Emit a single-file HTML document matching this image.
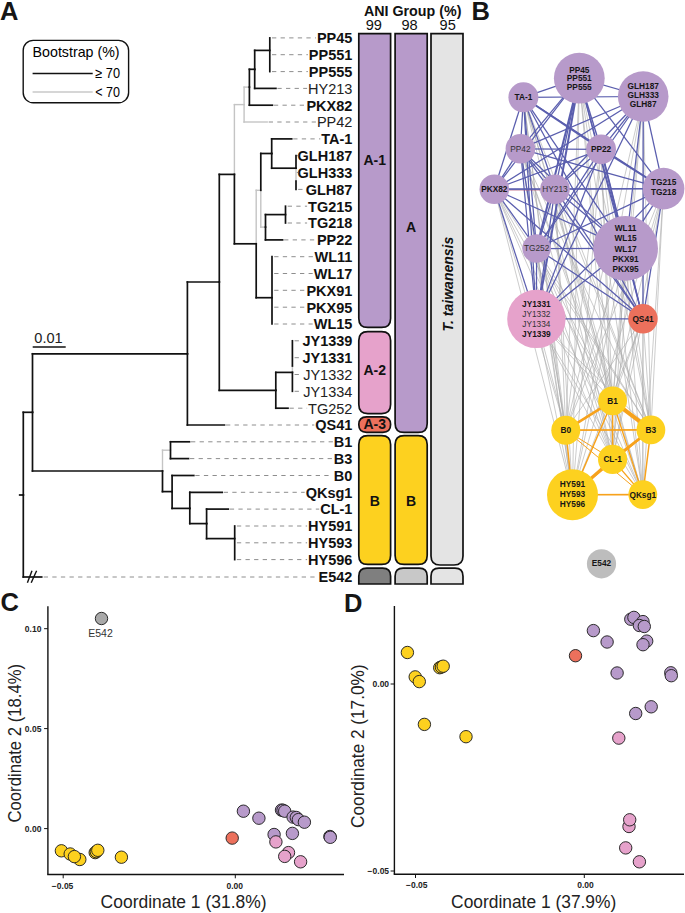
<!DOCTYPE html>
<html><head><meta charset="utf-8"><style>
html,body{margin:0;padding:0;background:#fff;}
svg{display:block;font-family:"Liberation Sans", sans-serif;}
</style></head><body>
<svg width="685" height="913" viewBox="0 0 685 913">
<rect width="685" height="913" fill="#fff"/>
<text x="0.0" y="19.5" font-size="25.5" font-weight="bold" fill="#161616">A</text>
<text x="471.6" y="19.9" font-size="25.5" font-weight="bold" fill="#161616">B</text>
<text x="0.4" y="611.4" font-size="25.5" font-weight="bold" fill="#161616">C</text>
<text x="344.0" y="611.7" font-size="25.5" font-weight="bold" fill="#161616">D</text>
<rect x="23.2" y="40.4" width="105.4" height="62.4" rx="10" ry="10" fill="none" stroke="#111" stroke-width="1.4"/>
<text x="32.6" y="56.9" font-size="13.9" textLength="87" lengthAdjust="spacingAndGlyphs">Bootstrap (%)</text>
<line x1="32.6" y1="73.5" x2="92.7" y2="73.5" stroke="#111" stroke-width="1.5"/>
<line x1="32.6" y1="92" x2="92.7" y2="92" stroke="#c8c8c8" stroke-width="1.5"/>
<text x="95.3" y="77.8" font-size="14" textLength="24.8" lengthAdjust="spacingAndGlyphs">≥ 70</text>
<text x="95.3" y="96.8" font-size="14" textLength="24.8" lengthAdjust="spacingAndGlyphs">&lt; 70</text>
<g font-size="14.5" fill="#111">
<text x="352.4" y="43.2" text-anchor="end" font-weight="bold" fill="#111">PP45</text>
<text x="352.4" y="60.0" text-anchor="end" font-weight="bold" fill="#111">PP551</text>
<text x="352.4" y="76.9" text-anchor="end" font-weight="bold" fill="#111">PP555</text>
<text x="352.4" y="93.7" text-anchor="end" font-weight="normal" fill="#222">HY213</text>
<text x="352.4" y="110.5" text-anchor="end" font-weight="bold" fill="#111">PKX82</text>
<text x="352.4" y="127.3" text-anchor="end" font-weight="normal" fill="#222">PP42</text>
<text x="352.4" y="144.2" text-anchor="end" font-weight="bold" fill="#111">TA-1</text>
<text x="352.4" y="161.0" text-anchor="end" font-weight="bold" fill="#111">GLH187</text>
<text x="352.4" y="177.8" text-anchor="end" font-weight="bold" fill="#111">GLH333</text>
<text x="352.4" y="194.7" text-anchor="end" font-weight="bold" fill="#111">GLH87</text>
<text x="352.4" y="211.5" text-anchor="end" font-weight="bold" fill="#111">TG215</text>
<text x="352.4" y="228.3" text-anchor="end" font-weight="bold" fill="#111">TG218</text>
<text x="352.4" y="245.2" text-anchor="end" font-weight="bold" fill="#111">PP22</text>
<text x="352.4" y="262.0" text-anchor="end" font-weight="bold" fill="#111">WL11</text>
<text x="352.4" y="278.8" text-anchor="end" font-weight="bold" fill="#111">WL17</text>
<text x="352.4" y="295.6" text-anchor="end" font-weight="bold" fill="#111">PKX91</text>
<text x="352.4" y="312.5" text-anchor="end" font-weight="bold" fill="#111">PKX95</text>
<text x="352.4" y="329.3" text-anchor="end" font-weight="bold" fill="#111">WL15</text>
<text x="352.4" y="346.1" text-anchor="end" font-weight="bold" fill="#111">JY1339</text>
<text x="352.4" y="363.0" text-anchor="end" font-weight="bold" fill="#111">JY1331</text>
<text x="352.4" y="379.8" text-anchor="end" font-weight="normal" fill="#222">JY1332</text>
<text x="352.4" y="396.6" text-anchor="end" font-weight="normal" fill="#222">JY1334</text>
<text x="352.4" y="413.5" text-anchor="end" font-weight="normal" fill="#222">TG252</text>
<text x="352.4" y="430.3" text-anchor="end" font-weight="bold" fill="#111">QS41</text>
<text x="352.4" y="447.1" text-anchor="end" font-weight="bold" fill="#111">B1</text>
<text x="352.4" y="463.9" text-anchor="end" font-weight="bold" fill="#111">B3</text>
<text x="352.4" y="480.8" text-anchor="end" font-weight="bold" fill="#111">B0</text>
<text x="352.4" y="497.6" text-anchor="end" font-weight="bold" fill="#111">QKsg1</text>
<text x="352.4" y="514.4" text-anchor="end" font-weight="bold" fill="#111">CL-1</text>
<text x="352.4" y="531.3" text-anchor="end" font-weight="bold" fill="#111">HY591</text>
<text x="352.4" y="548.1" text-anchor="end" font-weight="bold" fill="#111">HY593</text>
<text x="352.4" y="564.9" text-anchor="end" font-weight="bold" fill="#111">HY596</text>
<text x="352.4" y="582.3" text-anchor="end" font-weight="bold" fill="#111">E542</text>
</g>
<g stroke="#8e8e8e" stroke-width="1" stroke-dasharray="4.3 4.3">
<line x1="272.0" y1="37.9" x2="315.9" y2="37.9"/>
<line x1="272.0" y1="54.7" x2="307.9" y2="54.7"/>
<line x1="272.0" y1="71.6" x2="307.9" y2="71.6"/>
<line x1="277.4" y1="88.4" x2="307.1" y2="88.4"/>
<line x1="273.9" y1="105.2" x2="305.5" y2="105.2"/>
<line x1="268.7" y1="122.0" x2="315.9" y2="122.0"/>
<line x1="293.2" y1="138.9" x2="320.3" y2="138.9"/>
<line x1="298.2" y1="155.7" x2="296.6" y2="155.7"/>
<line x1="298.2" y1="172.5" x2="296.6" y2="172.5"/>
<line x1="298.2" y1="189.4" x2="304.7" y2="189.4"/>
<line x1="287.7" y1="206.2" x2="307.1" y2="206.2"/>
<line x1="287.7" y1="223.0" x2="307.1" y2="223.0"/>
<line x1="284.1" y1="239.9" x2="315.9" y2="239.9"/>
<line x1="274.2" y1="256.7" x2="313.5" y2="256.7"/>
<line x1="274.2" y1="273.5" x2="312.7" y2="273.5"/>
<line x1="274.2" y1="290.3" x2="305.5" y2="290.3"/>
<line x1="274.2" y1="307.2" x2="305.5" y2="307.2"/>
<line x1="274.2" y1="324.0" x2="312.7" y2="324.0"/>
<line x1="294.6" y1="340.8" x2="301.4" y2="340.8"/>
<line x1="294.6" y1="357.7" x2="301.4" y2="357.7"/>
<line x1="294.6" y1="374.5" x2="302.2" y2="374.5"/>
<line x1="294.6" y1="391.3" x2="302.2" y2="391.3"/>
<line x1="289.5" y1="408.2" x2="307.1" y2="408.2"/>
<line x1="226.0" y1="425.0" x2="314.3" y2="425.0"/>
<line x1="191.0" y1="441.8" x2="332.9" y2="441.8"/>
<line x1="190.0" y1="458.6" x2="332.9" y2="458.6"/>
<line x1="195.3" y1="475.5" x2="332.9" y2="475.5"/>
<line x1="223.7" y1="492.3" x2="304.7" y2="492.3"/>
<line x1="229.8" y1="509.1" x2="319.2" y2="509.1"/>
<line x1="236.9" y1="526.0" x2="307.1" y2="526.0"/>
<line x1="236.9" y1="542.8" x2="307.1" y2="542.8"/>
<line x1="236.9" y1="559.6" x2="307.1" y2="559.6"/>
<line x1="43.7" y1="577.0" x2="317.5" y2="577.0"/>
</g>
<g stroke-linecap="square" fill="none">
<line x1="234.4" y1="174.4" x2="234.4" y2="104.6" stroke="#c4c4c4" stroke-width="1.4"/>
<line x1="234.4" y1="104.6" x2="244.1" y2="104.6" stroke="#c4c4c4" stroke-width="1.4"/>
<line x1="244.1" y1="104.6" x2="244.1" y2="87.1" stroke="#c4c4c4" stroke-width="1.4"/>
<line x1="244.1" y1="87.1" x2="249.4" y2="87.1" stroke="#c4c4c4" stroke-width="1.4"/>
<line x1="244.1" y1="104.6" x2="244.1" y2="122.0" stroke="#c4c4c4" stroke-width="1.4"/>
<line x1="244.1" y1="122.0" x2="267.2" y2="122.0" stroke="#c4c4c4" stroke-width="1.4"/>
<line x1="256.2" y1="243.8" x2="256.2" y2="190.3" stroke="#c4c4c4" stroke-width="1.4"/>
<line x1="256.2" y1="190.3" x2="260.8" y2="190.3" stroke="#c4c4c4" stroke-width="1.4"/>
<line x1="260.8" y1="190.3" x2="260.8" y2="227.1" stroke="#c4c4c4" stroke-width="1.4"/>
<line x1="260.8" y1="227.1" x2="265.5" y2="227.1" stroke="#c4c4c4" stroke-width="1.4"/>
<line x1="296.0" y1="168.2" x2="296.0" y2="181.0" stroke="#c4c4c4" stroke-width="1.4"/>
<line x1="292.4" y1="366.0" x2="292.4" y2="372.4" stroke="#c4c4c4" stroke-width="1.4"/>
<line x1="162.5" y1="471.0" x2="162.5" y2="450.2" stroke="#c4c4c4" stroke-width="1.4"/>
<line x1="162.5" y1="450.2" x2="170.5" y2="450.2" stroke="#c4c4c4" stroke-width="1.4"/>
<line x1="19.7" y1="495.0" x2="23.3" y2="495.0" stroke="#111" stroke-width="1.7"/>
<line x1="23.3" y1="495.0" x2="23.3" y2="412.3" stroke="#111" stroke-width="1.7"/>
<line x1="23.3" y1="412.3" x2="32.5" y2="412.3" stroke="#111" stroke-width="1.7"/>
<line x1="23.3" y1="495.0" x2="23.3" y2="577.0" stroke="#111" stroke-width="1.7"/>
<line x1="23.3" y1="577.0" x2="41.7" y2="577.0" stroke="#111" stroke-width="1.7"/>
<line x1="32.5" y1="412.3" x2="32.5" y2="353.8" stroke="#111" stroke-width="1.7"/>
<line x1="32.5" y1="353.8" x2="187.4" y2="353.8" stroke="#111" stroke-width="1.7"/>
<line x1="32.5" y1="412.3" x2="32.5" y2="471.0" stroke="#111" stroke-width="1.7"/>
<line x1="32.5" y1="471.0" x2="162.5" y2="471.0" stroke="#111" stroke-width="1.7"/>
<line x1="187.4" y1="353.8" x2="187.4" y2="282.0" stroke="#111" stroke-width="1.7"/>
<line x1="187.4" y1="282.0" x2="219.3" y2="282.0" stroke="#111" stroke-width="1.7"/>
<line x1="187.4" y1="353.8" x2="187.4" y2="425.0" stroke="#111" stroke-width="1.7"/>
<line x1="187.4" y1="425.0" x2="224.5" y2="425.0" stroke="#111" stroke-width="1.7"/>
<line x1="219.3" y1="282.0" x2="219.3" y2="174.4" stroke="#111" stroke-width="1.7"/>
<line x1="219.3" y1="174.4" x2="234.4" y2="174.4" stroke="#111" stroke-width="1.7"/>
<line x1="219.3" y1="282.0" x2="219.3" y2="390.3" stroke="#111" stroke-width="1.7"/>
<line x1="219.3" y1="390.3" x2="275.8" y2="390.3" stroke="#111" stroke-width="1.7"/>
<line x1="234.4" y1="174.4" x2="234.4" y2="243.8" stroke="#111" stroke-width="1.7"/>
<line x1="234.4" y1="243.8" x2="256.2" y2="243.8" stroke="#111" stroke-width="1.7"/>
<line x1="249.4" y1="87.1" x2="249.4" y2="69.3" stroke="#111" stroke-width="1.7"/>
<line x1="249.4" y1="69.3" x2="254.7" y2="69.3" stroke="#111" stroke-width="1.7"/>
<line x1="249.4" y1="87.1" x2="249.4" y2="105.2" stroke="#111" stroke-width="1.7"/>
<line x1="249.4" y1="105.2" x2="272.4" y2="105.2" stroke="#111" stroke-width="1.7"/>
<line x1="254.7" y1="69.3" x2="254.7" y2="50.4" stroke="#111" stroke-width="1.7"/>
<line x1="254.7" y1="50.4" x2="269.8" y2="50.4" stroke="#111" stroke-width="1.7"/>
<line x1="254.7" y1="69.3" x2="254.7" y2="88.4" stroke="#111" stroke-width="1.7"/>
<line x1="254.7" y1="88.4" x2="275.9" y2="88.4" stroke="#111" stroke-width="1.7"/>
<line x1="269.8" y1="37.9" x2="269.8" y2="71.6" stroke="#111" stroke-width="1.7"/>
<line x1="256.2" y1="243.8" x2="256.2" y2="297.7" stroke="#111" stroke-width="1.7"/>
<line x1="256.2" y1="297.7" x2="272.0" y2="297.7" stroke="#111" stroke-width="1.7"/>
<line x1="272.0" y1="256.7" x2="272.0" y2="324.0" stroke="#111" stroke-width="1.7"/>
<line x1="260.8" y1="190.3" x2="260.8" y2="153.5" stroke="#111" stroke-width="1.7"/>
<line x1="260.8" y1="153.5" x2="271.7" y2="153.5" stroke="#111" stroke-width="1.7"/>
<line x1="271.7" y1="153.5" x2="271.7" y2="138.9" stroke="#111" stroke-width="1.7"/>
<line x1="271.7" y1="138.9" x2="291.7" y2="138.9" stroke="#111" stroke-width="1.7"/>
<line x1="271.7" y1="153.5" x2="271.7" y2="168.2" stroke="#111" stroke-width="1.7"/>
<line x1="271.7" y1="168.2" x2="296.0" y2="168.2" stroke="#111" stroke-width="1.7"/>
<line x1="296.0" y1="155.7" x2="296.0" y2="168.2" stroke="#111" stroke-width="1.7"/>
<line x1="296.0" y1="181.0" x2="296.0" y2="189.4" stroke="#111" stroke-width="1.7"/>
<line x1="265.5" y1="227.1" x2="265.5" y2="214.6" stroke="#111" stroke-width="1.7"/>
<line x1="265.5" y1="214.6" x2="285.5" y2="214.6" stroke="#111" stroke-width="1.7"/>
<line x1="265.5" y1="227.1" x2="265.5" y2="239.9" stroke="#111" stroke-width="1.7"/>
<line x1="265.5" y1="239.9" x2="282.6" y2="239.9" stroke="#111" stroke-width="1.7"/>
<line x1="285.5" y1="206.2" x2="285.5" y2="223.0" stroke="#111" stroke-width="1.7"/>
<line x1="275.8" y1="390.3" x2="275.8" y2="372.4" stroke="#111" stroke-width="1.7"/>
<line x1="275.8" y1="372.4" x2="292.4" y2="372.4" stroke="#111" stroke-width="1.7"/>
<line x1="275.8" y1="390.3" x2="275.8" y2="408.2" stroke="#111" stroke-width="1.7"/>
<line x1="275.8" y1="408.2" x2="288.0" y2="408.2" stroke="#111" stroke-width="1.7"/>
<line x1="292.4" y1="340.8" x2="292.4" y2="366.0" stroke="#111" stroke-width="1.7"/>
<line x1="292.4" y1="372.4" x2="292.4" y2="391.3" stroke="#111" stroke-width="1.7"/>
<line x1="162.5" y1="471.0" x2="162.5" y2="491.6" stroke="#111" stroke-width="1.7"/>
<line x1="162.5" y1="491.6" x2="172.1" y2="491.6" stroke="#111" stroke-width="1.7"/>
<line x1="170.5" y1="441.8" x2="170.5" y2="458.6" stroke="#111" stroke-width="1.7"/>
<line x1="170.5" y1="441.8" x2="189.5" y2="441.8" stroke="#111" stroke-width="1.7"/>
<line x1="170.5" y1="458.6" x2="188.5" y2="458.6" stroke="#111" stroke-width="1.7"/>
<line x1="172.1" y1="491.6" x2="172.1" y2="475.5" stroke="#111" stroke-width="1.7"/>
<line x1="172.1" y1="475.5" x2="193.8" y2="475.5" stroke="#111" stroke-width="1.7"/>
<line x1="172.1" y1="491.6" x2="172.1" y2="508.4" stroke="#111" stroke-width="1.7"/>
<line x1="172.1" y1="508.4" x2="189.8" y2="508.4" stroke="#111" stroke-width="1.7"/>
<line x1="189.8" y1="508.4" x2="189.8" y2="492.3" stroke="#111" stroke-width="1.7"/>
<line x1="189.8" y1="492.3" x2="222.2" y2="492.3" stroke="#111" stroke-width="1.7"/>
<line x1="189.8" y1="508.4" x2="189.8" y2="523.6" stroke="#111" stroke-width="1.7"/>
<line x1="189.8" y1="523.6" x2="206.6" y2="523.6" stroke="#111" stroke-width="1.7"/>
<line x1="206.6" y1="523.6" x2="206.6" y2="509.1" stroke="#111" stroke-width="1.7"/>
<line x1="206.6" y1="509.1" x2="228.3" y2="509.1" stroke="#111" stroke-width="1.7"/>
<line x1="206.6" y1="523.6" x2="206.6" y2="538.6" stroke="#111" stroke-width="1.7"/>
<line x1="206.6" y1="538.6" x2="234.7" y2="538.6" stroke="#111" stroke-width="1.7"/>
<line x1="234.7" y1="526.0" x2="234.7" y2="559.6" stroke="#111" stroke-width="1.7"/>
</g>
<line x1="27.4" y1="582.8" x2="32.0" y2="570.7" stroke="#111" stroke-width="1.4"/>
<line x1="31.2" y1="582.8" x2="36.6" y2="570.7" stroke="#111" stroke-width="1.4"/>
<line x1="32.7" y1="347.1" x2="65.7" y2="347.1" stroke="#111" stroke-width="1.5"/>
<text x="34.3" y="342.5" font-size="14" fill="#222" textLength="28.4" lengthAdjust="spacingAndGlyphs">0.01</text>
<text x="363.9" y="16.4" font-size="14.2" font-weight="bold" fill="#111" textLength="97.5" lengthAdjust="spacingAndGlyphs">ANI Group (%)</text>
<text x="365.7" y="30.4" font-size="14.6" fill="#111">99</text>
<text x="401.5" y="30.4" font-size="14.6" fill="#111">98</text>
<text x="439.6" y="30.4" font-size="14.6" fill="#111">95</text>
<path d="M358.8,33.6 Q358.8,33.6 358.8,33.6 L390.6,33.6 Q390.6,33.6 390.6,33.6 L390.6,318.4 Q390.6,327.4 381.6,327.4 L367.8,327.4 Q358.8,327.4 358.8,318.4 Z" fill="#B79ACA" stroke="#111" stroke-width="1.7"/>
<path d="M358.8,340.6 Q358.8,331.6 367.8,331.6 L381.6,331.6 Q390.6,331.6 390.6,340.6 L390.6,404.6 Q390.6,413.6 381.6,413.6 L367.8,413.6 Q358.8,413.6 358.8,404.6 Z" fill="#E6A2CB" stroke="#111" stroke-width="1.7"/>
<path d="M358.8,424.6 Q358.8,416.8 366.6,416.8 L382.8,416.8 Q390.6,416.8 390.6,424.6 L390.6,424.59999999999997 Q390.6,432.4 382.8,432.4 L366.6,432.4 Q358.8,432.4 358.8,424.59999999999997 Z" fill="#EC705C" stroke="#111" stroke-width="1.7"/>
<path d="M358.8,444.6 Q358.8,435.6 367.8,435.6 L381.6,435.6 Q390.6,435.6 390.6,444.6 L390.6,555.4 Q390.6,564.4 381.6,564.4 L367.8,564.4 Q358.8,564.4 358.8,555.4 Z" fill="#FDD11F" stroke="#111" stroke-width="1.7"/>
<path d="M358.8,576.2 Q358.8,568.2 366.8,568.2 L382.6,568.2 Q390.6,568.2 390.6,576.2 L390.6,584.0 Q390.6,584.0 390.6,584.0 L358.8,584.0 Q358.8,584.0 358.8,584.0 Z" fill="#7f7f7f" stroke="#111" stroke-width="1.7"/>
<path d="M395.1,33.6 Q395.1,33.6 395.1,33.6 L427.2,33.6 Q427.2,33.6 427.2,33.6 L427.2,423.4 Q427.2,432.4 418.2,432.4 L404.1,432.4 Q395.1,432.4 395.1,423.4 Z" fill="#B79ACA" stroke="#111" stroke-width="1.7"/>
<path d="M395.1,444.6 Q395.1,435.6 404.1,435.6 L418.2,435.6 Q427.2,435.6 427.2,444.6 L427.2,555.4 Q427.2,564.4 418.2,564.4 L404.1,564.4 Q395.1,564.4 395.1,555.4 Z" fill="#FDD11F" stroke="#111" stroke-width="1.7"/>
<path d="M395.1,576.2 Q395.1,568.2 403.1,568.2 L419.2,568.2 Q427.2,568.2 427.2,576.2 L427.2,584.0 Q427.2,584.0 427.2,584.0 L395.1,584.0 Q395.1,584.0 395.1,584.0 Z" fill="#c8c8c8" stroke="#111" stroke-width="1.7"/>
<path d="M431.0,33.6 Q431.0,33.6 431.0,33.6 L463.0,33.6 Q463.0,33.6 463.0,33.6 L463.0,556.0 Q463.0,565.0 454.0,565.0 L440.0,565.0 Q431.0,565.0 431.0,556.0 Z" fill="#e4e4e4" stroke="#111" stroke-width="1.7"/>
<path d="M431.0,576.2 Q431.0,568.2 439.0,568.2 L455.0,568.2 Q463.0,568.2 463.0,576.2 L463.0,584.0 Q463.0,584.0 463.0,584.0 L431.0,584.0 Q431.0,584.0 431.0,584.0 Z" fill="#e4e4e4" stroke="#111" stroke-width="1.7"/>
<g font-size="14" font-weight="bold" fill="#111" text-anchor="middle">
<text x="374.7" y="164.8">A-1</text>
<text x="374.7" y="375">A-2</text>
<text x="374.7" y="428.9">A-3</text>
<text x="374.7" y="505.6">B</text>
<text x="411.1" y="231.9">A</text>
<text x="411.1" y="505.6">B</text>
</g>
<text transform="translate(452.6,284.1) rotate(-90)" font-size="14" font-weight="bold" font-style="italic" fill="#111" text-anchor="middle">T. taiwanensis</text>
<g stroke="#aaaaaa" stroke-width="0.6">
<line x1="579.3" y1="78.2" x2="612.6" y2="400.8"/>
<line x1="579.3" y1="78.2" x2="565.8" y2="430.2"/>
<line x1="579.3" y1="78.2" x2="650.9" y2="429.9"/>
<line x1="579.3" y1="78.2" x2="612.6" y2="459.4"/>
<line x1="579.3" y1="78.2" x2="572.5" y2="494.8"/>
<line x1="579.3" y1="78.2" x2="642.8" y2="494.6"/>
<line x1="643.2" y1="96.5" x2="612.6" y2="400.8"/>
<line x1="643.2" y1="96.5" x2="565.8" y2="430.2"/>
<line x1="643.2" y1="96.5" x2="650.9" y2="429.9"/>
<line x1="643.2" y1="96.5" x2="612.6" y2="459.4"/>
<line x1="643.2" y1="96.5" x2="572.5" y2="494.8"/>
<line x1="643.2" y1="96.5" x2="642.8" y2="494.6"/>
<line x1="523.4" y1="97.3" x2="612.6" y2="400.8"/>
<line x1="523.4" y1="97.3" x2="565.8" y2="430.2"/>
<line x1="523.4" y1="97.3" x2="650.9" y2="429.9"/>
<line x1="523.4" y1="97.3" x2="612.6" y2="459.4"/>
<line x1="523.4" y1="97.3" x2="572.5" y2="494.8"/>
<line x1="523.4" y1="97.3" x2="642.8" y2="494.6"/>
<line x1="520.4" y1="148.8" x2="612.6" y2="400.8"/>
<line x1="520.4" y1="148.8" x2="565.8" y2="430.2"/>
<line x1="520.4" y1="148.8" x2="650.9" y2="429.9"/>
<line x1="520.4" y1="148.8" x2="612.6" y2="459.4"/>
<line x1="520.4" y1="148.8" x2="572.5" y2="494.8"/>
<line x1="520.4" y1="148.8" x2="642.8" y2="494.6"/>
<line x1="601.1" y1="149.3" x2="612.6" y2="400.8"/>
<line x1="601.1" y1="149.3" x2="565.8" y2="430.2"/>
<line x1="601.1" y1="149.3" x2="650.9" y2="429.9"/>
<line x1="601.1" y1="149.3" x2="612.6" y2="459.4"/>
<line x1="601.1" y1="149.3" x2="572.5" y2="494.8"/>
<line x1="601.1" y1="149.3" x2="642.8" y2="494.6"/>
<line x1="494.3" y1="189.2" x2="612.6" y2="400.8"/>
<line x1="494.3" y1="189.2" x2="565.8" y2="430.2"/>
<line x1="494.3" y1="189.2" x2="650.9" y2="429.9"/>
<line x1="494.3" y1="189.2" x2="612.6" y2="459.4"/>
<line x1="494.3" y1="189.2" x2="572.5" y2="494.8"/>
<line x1="494.3" y1="189.2" x2="642.8" y2="494.6"/>
<line x1="555.0" y1="189.2" x2="612.6" y2="400.8"/>
<line x1="555.0" y1="189.2" x2="565.8" y2="430.2"/>
<line x1="555.0" y1="189.2" x2="650.9" y2="429.9"/>
<line x1="555.0" y1="189.2" x2="612.6" y2="459.4"/>
<line x1="555.0" y1="189.2" x2="572.5" y2="494.8"/>
<line x1="555.0" y1="189.2" x2="642.8" y2="494.6"/>
<line x1="663.6" y1="188.6" x2="612.6" y2="400.8"/>
<line x1="663.6" y1="188.6" x2="565.8" y2="430.2"/>
<line x1="663.6" y1="188.6" x2="650.9" y2="429.9"/>
<line x1="663.6" y1="188.6" x2="612.6" y2="459.4"/>
<line x1="663.6" y1="188.6" x2="572.5" y2="494.8"/>
<line x1="663.6" y1="188.6" x2="642.8" y2="494.6"/>
<line x1="536.6" y1="248.5" x2="612.6" y2="400.8"/>
<line x1="536.6" y1="248.5" x2="565.8" y2="430.2"/>
<line x1="536.6" y1="248.5" x2="650.9" y2="429.9"/>
<line x1="536.6" y1="248.5" x2="612.6" y2="459.4"/>
<line x1="536.6" y1="248.5" x2="572.5" y2="494.8"/>
<line x1="536.6" y1="248.5" x2="642.8" y2="494.6"/>
<line x1="625.6" y1="248.4" x2="612.6" y2="400.8"/>
<line x1="625.6" y1="248.4" x2="565.8" y2="430.2"/>
<line x1="625.6" y1="248.4" x2="650.9" y2="429.9"/>
<line x1="625.6" y1="248.4" x2="612.6" y2="459.4"/>
<line x1="625.6" y1="248.4" x2="572.5" y2="494.8"/>
<line x1="625.6" y1="248.4" x2="642.8" y2="494.6"/>
<line x1="536.4" y1="318.9" x2="612.6" y2="400.8"/>
<line x1="536.4" y1="318.9" x2="565.8" y2="430.2"/>
<line x1="536.4" y1="318.9" x2="650.9" y2="429.9"/>
<line x1="536.4" y1="318.9" x2="612.6" y2="459.4"/>
<line x1="536.4" y1="318.9" x2="572.5" y2="494.8"/>
<line x1="536.4" y1="318.9" x2="642.8" y2="494.6"/>
<line x1="643.0" y1="318.8" x2="612.6" y2="400.8"/>
<line x1="643.0" y1="318.8" x2="565.8" y2="430.2"/>
<line x1="643.0" y1="318.8" x2="650.9" y2="429.9"/>
<line x1="643.0" y1="318.8" x2="612.6" y2="459.4"/>
<line x1="643.0" y1="318.8" x2="572.5" y2="494.8"/>
<line x1="643.0" y1="318.8" x2="642.8" y2="494.6"/>
</g>
<g stroke="#5A5EAE">
<line x1="579.3" y1="78.2" x2="643.2" y2="96.5" stroke-width="1.25"/>
<line x1="579.3" y1="78.2" x2="523.4" y2="97.3" stroke-width="1.25"/>
<line x1="579.3" y1="78.2" x2="520.4" y2="148.8" stroke-width="1.25"/>
<line x1="579.3" y1="78.2" x2="601.1" y2="149.3" stroke-width="1.4"/>
<line x1="579.3" y1="78.2" x2="494.3" y2="189.2" stroke-width="1.25"/>
<line x1="579.3" y1="78.2" x2="555.0" y2="189.2" stroke-width="1.25"/>
<line x1="579.3" y1="78.2" x2="663.6" y2="188.6" stroke-width="1.25"/>
<line x1="579.3" y1="78.2" x2="536.6" y2="248.5" stroke-width="2.0"/>
<line x1="579.3" y1="78.2" x2="625.6" y2="248.4" stroke-width="1.25"/>
<line x1="579.3" y1="78.2" x2="536.4" y2="318.9" stroke-width="2.0"/>
<line x1="579.3" y1="78.2" x2="643.0" y2="318.8" stroke-width="1.25"/>
<line x1="643.2" y1="96.5" x2="523.4" y2="97.3" stroke-width="1.25"/>
<line x1="643.2" y1="96.5" x2="520.4" y2="148.8" stroke-width="1.25"/>
<line x1="643.2" y1="96.5" x2="601.1" y2="149.3" stroke-width="1.25"/>
<line x1="643.2" y1="96.5" x2="494.3" y2="189.2" stroke-width="1.25"/>
<line x1="643.2" y1="96.5" x2="555.0" y2="189.2" stroke-width="1.25"/>
<line x1="643.2" y1="96.5" x2="663.6" y2="188.6" stroke-width="1.25"/>
<line x1="643.2" y1="96.5" x2="536.6" y2="248.5" stroke-width="1.25"/>
<line x1="643.2" y1="96.5" x2="625.6" y2="248.4" stroke-width="1.25"/>
<line x1="643.2" y1="96.5" x2="536.4" y2="318.9" stroke-width="1.25"/>
<line x1="643.2" y1="96.5" x2="643.0" y2="318.8" stroke-width="1.25"/>
<line x1="523.4" y1="97.3" x2="520.4" y2="148.8" stroke-width="1.25"/>
<line x1="523.4" y1="97.3" x2="601.1" y2="149.3" stroke-width="1.9"/>
<line x1="523.4" y1="97.3" x2="494.3" y2="189.2" stroke-width="1.25"/>
<line x1="523.4" y1="97.3" x2="555.0" y2="189.2" stroke-width="1.25"/>
<line x1="523.4" y1="97.3" x2="663.6" y2="188.6" stroke-width="1.25"/>
<line x1="523.4" y1="97.3" x2="536.6" y2="248.5" stroke-width="1.25"/>
<line x1="523.4" y1="97.3" x2="625.6" y2="248.4" stroke-width="1.25"/>
<line x1="523.4" y1="97.3" x2="536.4" y2="318.9" stroke-width="1.25"/>
<line x1="523.4" y1="97.3" x2="643.0" y2="318.8" stroke-width="1.25"/>
<line x1="520.4" y1="148.8" x2="601.1" y2="149.3" stroke-width="1.25"/>
<line x1="520.4" y1="148.8" x2="494.3" y2="189.2" stroke-width="1.25"/>
<line x1="520.4" y1="148.8" x2="555.0" y2="189.2" stroke-width="1.25"/>
<line x1="520.4" y1="148.8" x2="663.6" y2="188.6" stroke-width="1.25"/>
<line x1="520.4" y1="148.8" x2="536.6" y2="248.5" stroke-width="1.25"/>
<line x1="520.4" y1="148.8" x2="625.6" y2="248.4" stroke-width="1.25"/>
<line x1="520.4" y1="148.8" x2="536.4" y2="318.9" stroke-width="1.25"/>
<line x1="520.4" y1="148.8" x2="643.0" y2="318.8" stroke-width="1.25"/>
<line x1="601.1" y1="149.3" x2="494.3" y2="189.2" stroke-width="1.25"/>
<line x1="601.1" y1="149.3" x2="555.0" y2="189.2" stroke-width="1.25"/>
<line x1="601.1" y1="149.3" x2="663.6" y2="188.6" stroke-width="1.8"/>
<line x1="601.1" y1="149.3" x2="536.6" y2="248.5" stroke-width="1.25"/>
<line x1="601.1" y1="149.3" x2="625.6" y2="248.4" stroke-width="1.8"/>
<line x1="601.1" y1="149.3" x2="536.4" y2="318.9" stroke-width="1.25"/>
<line x1="601.1" y1="149.3" x2="643.0" y2="318.8" stroke-width="1.25"/>
<line x1="494.3" y1="190.1" x2="555.0" y2="190.1" stroke="#b04a6a" stroke-width="0.6"/>
<line x1="494.3" y1="189.2" x2="555.0" y2="189.2" stroke-width="1.2"/>
<line x1="494.3" y1="189.2" x2="663.6" y2="188.6" stroke-width="1.25"/>
<line x1="494.3" y1="189.2" x2="536.6" y2="248.5" stroke-width="1.25"/>
<line x1="494.3" y1="189.2" x2="625.6" y2="248.4" stroke-width="1.25"/>
<line x1="494.3" y1="189.2" x2="536.4" y2="318.9" stroke-width="1.25"/>
<line x1="494.3" y1="189.2" x2="643.0" y2="318.8" stroke-width="1.25"/>
<line x1="555.0" y1="189.2" x2="663.6" y2="188.6" stroke-width="1.25"/>
<line x1="555.0" y1="189.2" x2="536.6" y2="248.5" stroke-width="1.25"/>
<line x1="555.0" y1="189.2" x2="625.6" y2="248.4" stroke-width="1.25"/>
<line x1="555.0" y1="189.2" x2="536.4" y2="318.9" stroke-width="1.25"/>
<line x1="555.0" y1="189.2" x2="643.0" y2="318.8" stroke-width="1.25"/>
<line x1="663.6" y1="188.6" x2="536.6" y2="248.5" stroke-width="1.25"/>
<line x1="663.6" y1="188.6" x2="625.6" y2="248.4" stroke-width="1.25"/>
<line x1="663.6" y1="188.6" x2="536.4" y2="318.9" stroke-width="1.25"/>
<line x1="663.6" y1="188.6" x2="643.0" y2="318.8" stroke-width="1.25"/>
<line x1="536.6" y1="248.5" x2="625.6" y2="248.4" stroke-width="1.25"/>
<line x1="536.6" y1="248.5" x2="536.4" y2="318.9" stroke-width="1.25"/>
<line x1="536.6" y1="248.5" x2="643.0" y2="318.8" stroke-width="1.25"/>
<line x1="625.6" y1="248.4" x2="536.4" y2="318.9" stroke-width="1.25"/>
<line x1="625.6" y1="248.4" x2="643.0" y2="318.8" stroke-width="1.25"/>
<line x1="536.4" y1="318.9" x2="643.0" y2="318.8" stroke-width="1.25"/>
</g>
<g stroke="#F7A21C">
<line x1="612.6" y1="400.8" x2="565.8" y2="430.2" stroke-width="2.6"/>
<line x1="612.6" y1="400.8" x2="650.9" y2="429.9" stroke-width="4.0"/>
<line x1="565.8" y1="430.2" x2="650.9" y2="429.9" stroke-width="1.8"/>
<line x1="612.6" y1="400.8" x2="612.6" y2="459.4" stroke-width="1.5"/>
<line x1="612.6" y1="400.8" x2="572.5" y2="494.8" stroke-width="1.5"/>
<line x1="612.6" y1="400.8" x2="642.8" y2="494.6" stroke-width="1.4"/>
<line x1="565.8" y1="430.2" x2="612.6" y2="459.4" stroke-width="1.0"/>
<line x1="565.8" y1="430.2" x2="572.5" y2="494.8" stroke-width="1.5"/>
<line x1="565.8" y1="430.2" x2="642.8" y2="494.6" stroke-width="1.0"/>
<line x1="650.9" y1="429.9" x2="612.6" y2="459.4" stroke-width="2.6"/>
<line x1="650.9" y1="429.9" x2="572.5" y2="494.8" stroke-width="1.2"/>
<line x1="650.9" y1="429.9" x2="642.8" y2="494.6" stroke-width="1.5"/>
<line x1="612.6" y1="459.4" x2="572.5" y2="494.8" stroke-width="3.2"/>
<line x1="612.6" y1="459.4" x2="642.8" y2="494.6" stroke-width="1.4"/>
<line x1="572.5" y1="494.8" x2="642.8" y2="494.6" stroke-width="1.6"/>
</g>
<circle cx="579.3" cy="78.2" r="25.4" fill="#B79ACA"/>
<circle cx="643.2" cy="96.5" r="25.3" fill="#B79ACA"/>
<circle cx="523.4" cy="97.3" r="15.0" fill="#B79ACA"/>
<circle cx="520.4" cy="148.8" r="14.8" fill="#B79ACA"/>
<circle cx="601.1" cy="149.3" r="14.9" fill="#B79ACA"/>
<circle cx="494.3" cy="189.2" r="14.8" fill="#B79ACA"/>
<circle cx="555.0" cy="189.2" r="14.8" fill="#B79ACA"/>
<circle cx="663.6" cy="188.6" r="20.8" fill="#B79ACA"/>
<circle cx="536.6" cy="248.5" r="14.3" fill="#B79ACA"/>
<circle cx="625.6" cy="248.4" r="32.4" fill="#B79ACA"/>
<circle cx="536.4" cy="318.9" r="29.2" fill="#E6A2CB"/>
<circle cx="643.0" cy="318.8" r="14.7" fill="#EC705C"/>
<circle cx="612.6" cy="400.8" r="14.4" fill="#FDD11F"/>
<circle cx="565.8" cy="430.2" r="14.5" fill="#FDD11F"/>
<circle cx="650.9" cy="429.9" r="14.4" fill="#FDD11F"/>
<circle cx="612.6" cy="459.4" r="14.6" fill="#FDD11F"/>
<circle cx="572.5" cy="494.8" r="25.5" fill="#FDD11F"/>
<circle cx="642.8" cy="494.6" r="14.4" fill="#FDD11F"/>
<circle cx="601.5" cy="563.8" r="14.6" fill="#bdbdbd"/>
<g font-size="8.3" font-weight="bold" fill="#161616" text-anchor="middle">
<text x="579.3" y="72.9">PP45</text>
<text x="579.3" y="81.4">PP551</text>
<text x="579.3" y="89.9">PP555</text>
<text x="643.2" y="89.3">GLH187</text>
<text x="643.2" y="98.1">GLH333</text>
<text x="643.2" y="106.9">GLH87</text>
<text x="523.4" y="100.2">TA-1</text>
<text x="520.4" y="151.7" font-weight="normal" fill="#333">PP42</text>
<text x="601.1" y="152.2">PP22</text>
<text x="494.3" y="192.1">PKX82</text>
<text x="555.0" y="192.1" font-weight="normal" fill="#333">HY213</text>
<text x="663.6" y="185.0">TG215</text>
<text x="663.6" y="194.8">TG218</text>
<text x="536.6" y="251.4" font-weight="normal" fill="#333">TG252</text>
<text x="625.6" y="230.8">WL11</text>
<text x="625.6" y="241.2">WL15</text>
<text x="625.6" y="251.6">WL17</text>
<text x="625.6" y="262.0">PKX91</text>
<text x="625.6" y="272.4">PKX95</text>
<text x="536.4" y="306.7">JY1331</text>
<text x="536.4" y="316.6" font-weight="normal" fill="#333">JY1332</text>
<text x="536.4" y="326.6" font-weight="normal" fill="#333">JY1334</text>
<text x="536.4" y="336.5">JY1339</text>
<text x="643.0" y="321.7">QS41</text>
<text x="612.6" y="403.7">B1</text>
<text x="565.8" y="433.1">B0</text>
<text x="650.9" y="432.8">B3</text>
<text x="612.6" y="462.3">CL-1</text>
<text x="572.5" y="487.2">HY591</text>
<text x="572.5" y="497.2">HY593</text>
<text x="572.5" y="507.2">HY596</text>
<text x="642.8" y="497.5">QKsg1</text>
<text x="601.5" y="566.0">E542</text>
</g>
<line x1="47.9" y1="606.2" x2="47.9" y2="874.5" stroke="#111" stroke-width="1.4"/>
<line x1="47.199999999999996" y1="874.5" x2="344.0" y2="874.5" stroke="#111" stroke-width="1.4"/>
<line x1="44.1" y1="628.7" x2="47.9" y2="628.7" stroke="#111" stroke-width="1"/>
<text x="41.4" y="631.7" font-size="8.5" font-weight="bold" fill="#222" text-anchor="end">0.10</text>
<line x1="44.1" y1="728.6" x2="47.9" y2="728.6" stroke="#111" stroke-width="1"/>
<text x="41.4" y="731.6" font-size="8.5" font-weight="bold" fill="#222" text-anchor="end">0.05</text>
<line x1="44.1" y1="828.6" x2="47.9" y2="828.6" stroke="#111" stroke-width="1"/>
<text x="41.4" y="831.6" font-size="8.5" font-weight="bold" fill="#222" text-anchor="end">0.00</text>
<line x1="63.2" y1="874.5" x2="63.2" y2="878.3" stroke="#111" stroke-width="1"/>
<text x="62.6" y="888.7" font-size="8.5" font-weight="bold" fill="#222" text-anchor="middle">−0.05</text>
<line x1="235.3" y1="874.5" x2="235.3" y2="878.3" stroke="#111" stroke-width="1"/>
<text x="234.70000000000002" y="888.7" font-size="8.5" font-weight="bold" fill="#222" text-anchor="middle">0.00</text>
<text transform="translate(20.6,743.2) rotate(-90)" font-size="17.5" fill="#222" text-anchor="middle" textLength="158.6" lengthAdjust="spacingAndGlyphs">Coordinate 2 (18.4%)</text>
<text x="183.6" y="908.0" font-size="17.5" fill="#222" text-anchor="middle" textLength="166.0" lengthAdjust="spacingAndGlyphs">Coordinate 1 (31.8%)</text>
<line x1="394.4" y1="606.0" x2="394.4" y2="874.2" stroke="#111" stroke-width="1.4"/>
<line x1="393.7" y1="874.2" x2="684.0" y2="874.2" stroke="#111" stroke-width="1.4"/>
<line x1="390.59999999999997" y1="684.0" x2="394.4" y2="684.0" stroke="#111" stroke-width="1"/>
<text x="389.09999999999997" y="687.0" font-size="8.5" font-weight="bold" fill="#222" text-anchor="end">0.00</text>
<line x1="390.59999999999997" y1="871.0" x2="394.4" y2="871.0" stroke="#111" stroke-width="1"/>
<text x="389.09999999999997" y="874.0" font-size="8.5" font-weight="bold" fill="#222" text-anchor="end">−0.05</text>
<line x1="415.5" y1="874.2" x2="415.5" y2="878.0" stroke="#111" stroke-width="1"/>
<text x="416.7" y="888.4000000000001" font-size="8.5" font-weight="bold" fill="#222" text-anchor="middle">−0.05</text>
<line x1="584.3" y1="874.2" x2="584.3" y2="878.0" stroke="#111" stroke-width="1"/>
<text x="585.5" y="888.4000000000001" font-size="8.5" font-weight="bold" fill="#222" text-anchor="middle">0.00</text>
<text transform="translate(364.0,746.2) rotate(-90)" font-size="17.5" fill="#222" text-anchor="middle" textLength="163.4" lengthAdjust="spacingAndGlyphs">Coordinate 2 (17.0%)</text>
<text x="533.7" y="908.0" font-size="17.5" fill="#222" text-anchor="middle" textLength="165.2" lengthAdjust="spacingAndGlyphs">Coordinate 1 (37.9%)</text>
<circle cx="101.5" cy="618.5" r="6.2" fill="#a9a9a9" stroke="#222" stroke-width="0.95"/>
<text x="100.5" y="637.4" font-size="10.5" fill="#333" text-anchor="middle">E542</text>
<circle cx="61.4" cy="850.8" r="6.2" fill="#FDD11F" stroke="#222" stroke-width="0.95"/>
<circle cx="70.2" cy="854.0" r="6.2" fill="#FDD11F" stroke="#222" stroke-width="0.95"/>
<circle cx="79.8" cy="859.5" r="6.2" fill="#FDD11F" stroke="#222" stroke-width="0.95"/>
<circle cx="74.4" cy="856.6" r="6.2" fill="#FDD11F" stroke="#222" stroke-width="0.95"/>
<circle cx="95.2" cy="852.6" r="6.2" fill="#FDD11F" stroke="#222" stroke-width="0.95"/>
<circle cx="96.3" cy="851.7" r="6.2" fill="#FDD11F" stroke="#222" stroke-width="0.95"/>
<circle cx="97.8" cy="850.3" r="6.2" fill="#FDD11F" stroke="#222" stroke-width="0.95"/>
<circle cx="121.4" cy="857.2" r="6.2" fill="#FDD11F" stroke="#222" stroke-width="0.95"/>
<circle cx="232.2" cy="838.1" r="6.2" fill="#EC705C" stroke="#222" stroke-width="0.95"/>
<circle cx="243.4" cy="811.2" r="6.2" fill="#B79ACA" stroke="#222" stroke-width="0.95"/>
<circle cx="258.9" cy="818.2" r="6.2" fill="#B79ACA" stroke="#222" stroke-width="0.95"/>
<circle cx="281.5" cy="810.1" r="6.2" fill="#B79ACA" stroke="#222" stroke-width="0.95"/>
<circle cx="283.0" cy="810.3" r="6.2" fill="#B79ACA" stroke="#222" stroke-width="0.95"/>
<circle cx="284.7" cy="811.2" r="6.2" fill="#B79ACA" stroke="#222" stroke-width="0.95"/>
<circle cx="293.1" cy="817.1" r="6.2" fill="#B79ACA" stroke="#222" stroke-width="0.95"/>
<circle cx="296.3" cy="817.5" r="6.2" fill="#B79ACA" stroke="#222" stroke-width="0.95"/>
<circle cx="298.4" cy="819.6" r="6.2" fill="#B79ACA" stroke="#222" stroke-width="0.95"/>
<circle cx="304.4" cy="822.2" r="6.2" fill="#B79ACA" stroke="#222" stroke-width="0.95"/>
<circle cx="274.1" cy="834.5" r="6.2" fill="#B79ACA" stroke="#222" stroke-width="0.95"/>
<circle cx="292.4" cy="833.4" r="6.2" fill="#B79ACA" stroke="#222" stroke-width="0.95"/>
<circle cx="329.9" cy="836.5" r="6.2" fill="#B79ACA" stroke="#222" stroke-width="0.95"/>
<circle cx="330.3" cy="837.3" r="6.2" fill="#B79ACA" stroke="#222" stroke-width="0.95"/>
<circle cx="275.9" cy="841.9" r="6.2" fill="#E6A2CB" stroke="#222" stroke-width="0.95"/>
<circle cx="288.5" cy="852.6" r="6.2" fill="#E6A2CB" stroke="#222" stroke-width="0.95"/>
<circle cx="284.7" cy="856.4" r="6.2" fill="#E6A2CB" stroke="#222" stroke-width="0.95"/>
<circle cx="300.6" cy="861.8" r="6.2" fill="#E6A2CB" stroke="#222" stroke-width="0.95"/>
<circle cx="407.4" cy="652.5" r="6.2" fill="#FDD11F" stroke="#222" stroke-width="0.95"/>
<circle cx="415.2" cy="676.9" r="6.2" fill="#FDD11F" stroke="#222" stroke-width="0.95"/>
<circle cx="419.3" cy="681.6" r="6.2" fill="#FDD11F" stroke="#222" stroke-width="0.95"/>
<circle cx="439.7" cy="667.7" r="6.2" fill="#FDD11F" stroke="#222" stroke-width="0.95"/>
<circle cx="441.4" cy="667.0" r="6.2" fill="#FDD11F" stroke="#222" stroke-width="0.95"/>
<circle cx="443.2" cy="666.2" r="6.2" fill="#FDD11F" stroke="#222" stroke-width="0.95"/>
<circle cx="424.4" cy="724.4" r="6.2" fill="#FDD11F" stroke="#222" stroke-width="0.95"/>
<circle cx="466.0" cy="736.7" r="6.2" fill="#FDD11F" stroke="#222" stroke-width="0.95"/>
<circle cx="575.5" cy="655.7" r="6.2" fill="#EC705C" stroke="#222" stroke-width="0.95"/>
<circle cx="593.4" cy="630.6" r="6.2" fill="#B79ACA" stroke="#222" stroke-width="0.95"/>
<circle cx="607.1" cy="642.0" r="6.2" fill="#B79ACA" stroke="#222" stroke-width="0.95"/>
<circle cx="630.8" cy="619.2" r="6.2" fill="#B79ACA" stroke="#222" stroke-width="0.95"/>
<circle cx="633.9" cy="617.4" r="6.2" fill="#B79ACA" stroke="#222" stroke-width="0.95"/>
<circle cx="643.0" cy="621.6" r="6.2" fill="#B79ACA" stroke="#222" stroke-width="0.95"/>
<circle cx="639.4" cy="625.5" r="6.2" fill="#B79ACA" stroke="#222" stroke-width="0.95"/>
<circle cx="644.3" cy="626.5" r="6.2" fill="#B79ACA" stroke="#222" stroke-width="0.95"/>
<circle cx="646.7" cy="641.1" r="6.2" fill="#B79ACA" stroke="#222" stroke-width="0.95"/>
<circle cx="643.0" cy="644.7" r="6.2" fill="#B79ACA" stroke="#222" stroke-width="0.95"/>
<circle cx="617.1" cy="673.0" r="6.2" fill="#B79ACA" stroke="#222" stroke-width="0.95"/>
<circle cx="670.8" cy="672.8" r="6.2" fill="#B79ACA" stroke="#222" stroke-width="0.95"/>
<circle cx="671.3" cy="675.7" r="6.2" fill="#B79ACA" stroke="#222" stroke-width="0.95"/>
<circle cx="651.2" cy="706.8" r="6.2" fill="#B79ACA" stroke="#222" stroke-width="0.95"/>
<circle cx="635.7" cy="713.5" r="6.2" fill="#B79ACA" stroke="#222" stroke-width="0.95"/>
<circle cx="618.8" cy="738.1" r="6.2" fill="#E6A2CB" stroke="#222" stroke-width="0.95"/>
<circle cx="629.0" cy="826.5" r="6.2" fill="#E6A2CB" stroke="#222" stroke-width="0.95"/>
<circle cx="629.7" cy="819.8" r="6.2" fill="#E6A2CB" stroke="#222" stroke-width="0.95"/>
<circle cx="625.7" cy="847.9" r="6.2" fill="#E6A2CB" stroke="#222" stroke-width="0.95"/>
<circle cx="639.4" cy="861.8" r="6.2" fill="#E6A2CB" stroke="#222" stroke-width="0.95"/>
</svg></body></html>
